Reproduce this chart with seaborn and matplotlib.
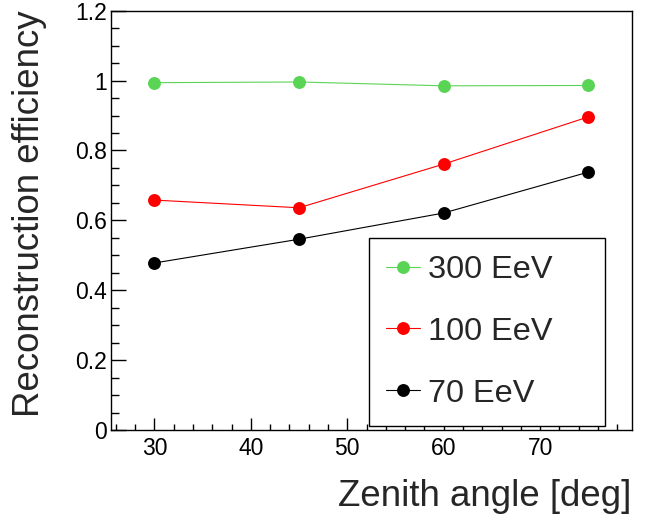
#!/usr/bin/env python3
# -*- coding: utf-8 -*-

import pandas as pd
import matplotlib
matplotlib.use('Agg')
import matplotlib.pyplot as plt
from matplotlib.ticker import MultipleLocator
from matplotlib.lines import Line2D
import seaborn as sns

# 数据
angles = [30, 45, 60, 75]
eff_300 = [0.994, 0.996, 0.985, 0.986]
eff_100 = [0.658, 0.636, 0.761, 0.896]
eff_70 = [0.478, 0.546, 0.621, 0.738]
energies = ['300 EeV', '100 EeV', '70 EeV']
colors = ['#5ad455', '#ff0000', '#000000']
ytick_vals = [0, 0.2, 0.4, 0.6, 0.8, 1.0, 1.2]
ytick_labels = ['0', '0.2', '0.4', '0.6', '0.8', '1', '1.2']

sns.set_theme(style='white')
plt.rcParams['font.family'] = ['Liberation Sans', 'DejaVu Sans']

df = pd.DataFrame({
    'angle': angles * 3,
    'eff': eff_300 + eff_100 + eff_70,
    'energy': [e for e in energies for _ in angles],
})

fig = plt.figure(figsize=(6.5, 5.14), dpi=100)
ax = fig.add_axes([0.1708, 0.1634, 0.8010, 0.8158])

sns.lineplot(data=df, x='angle', y='eff', hue='energy', hue_order=energies,
             palette=colors, marker='o', markersize=9.3, markeredgewidth=0,
             linewidth=0.8, ax=ax, legend=False)

ax.set_xlim(25.5, 79.5)
ax.set_ylim(0, 1.2)
ax.xaxis.set_major_locator(MultipleLocator(10))
ax.xaxis.set_minor_locator(MultipleLocator(2))
ax.set_yticks(ytick_vals)
ax.set_yticklabels(ytick_labels)
ax.yaxis.set_minor_locator(MultipleLocator(0.05))

ax.tick_params(which='both', direction='in', top=False, right=False,
               bottom=True, left=True, colors='black', width=1)
ax.tick_params(which='major', axis='x', length=9, labelsize=16.5, pad=5)
ax.tick_params(which='minor', axis='x', length=4.5)
ax.tick_params(which='major', axis='y', length=10.8, labelsize=16.5, pad=3)
ax.tick_params(which='minor', axis='y', length=5.8)

for s in ax.spines.values():
    s.set_color('black')
    s.set_linewidth(1)

ax.set_xlabel('Zenith angle [deg]', fontsize=26.4, loc='right', labelpad=14)
ax.set_ylabel('Reconstruction efficiency', fontsize=26.4, loc='top', labelpad=20)

# 图例
handles = [Line2D([0], [0], color=c, marker='o', markersize=9.3,
                  markeredgewidth=0, linewidth=0.8) for c in colors]
leg = ax.legend(handles, energies, loc='upper left',
                bbox_to_anchor=(0.4955, 0.4579, 0.4532, 0.0), mode='expand',
                fontsize=23.4, frameon=True, fancybox=False, shadow=False,
                handlelength=1.05, handletextpad=0.25,
                labelspacing=0.98, borderpad=0.52, borderaxespad=0)
leg.get_frame().set_edgecolor('black')
leg.get_frame().set_linewidth(1)
leg.get_frame().set_facecolor('white')
leg.get_frame().set_alpha(1)

fig.savefig('out.png', dpi=100)
plt.close(fig)
